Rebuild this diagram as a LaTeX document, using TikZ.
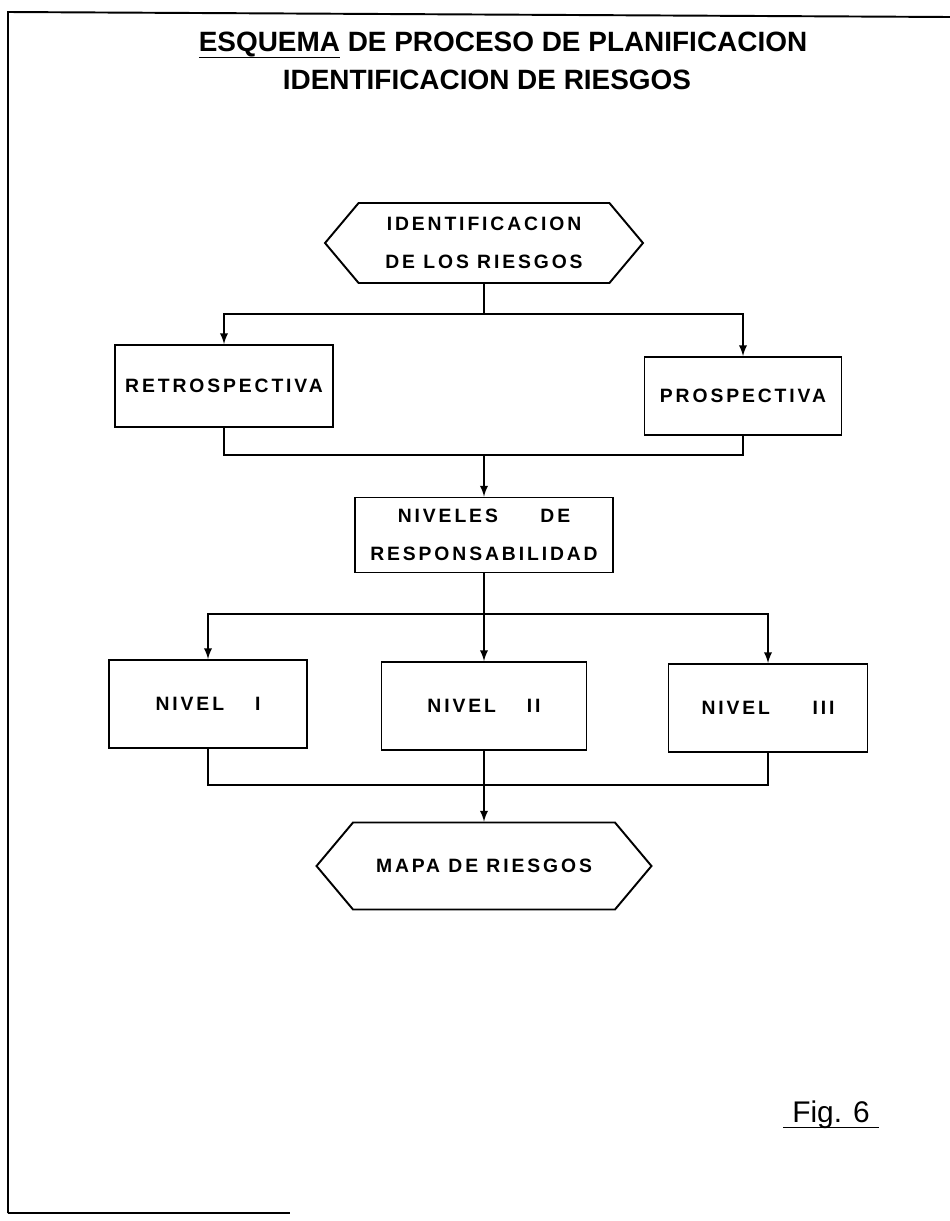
\documentclass[tikz,border=0pt]{standalone}
\usepackage{fontspec}
\setmainfont{Liberation Sans}
\usetikzlibrary{shapes.symbols}
\newfontfamily\boxfont[LetterSpace=15]{Liberation Sans Bold}
\newcommand\lowline[2][-4pt]{\setbox0\hbox{#2}\rlap{\rule[#1]{\wd0}{0.9pt}}\box0\relax}
\begin{document}
\begin{tikzpicture}[x=0.02cm,y=-0.02cm,line width=1.1pt,
                    mybox/.style={draw,rectangle,font=\boxfont\fontsize{11}{22}\selectfont,align=center},
                    myhex/.style={draw,shape=signal,signal to=west and east,signal pointer angle=100,
                                  font=\boxfont\fontsize{11}{22}\selectfont,align=center},
                    goto/.style={->},>=latex]
\useasboundingbox (0,0) rectangle (950,1221);
\draw (8,1213) -- (8,12) -- (950,17);
\draw (8,1213) -- (290,1213);
\node (title1) at (503,45) {\fontsize{15.9}{18}\bfseries\lowline{ESQUEMA} DE PROCESO DE PLANIFICACION};
\node (title2) at (487,80) {\fontsize{15.9}{18}\bfseries IDENTIFICACION DE RIESGOS};
\node[myhex,minimum width=6.36cm,minimum height=1.6cm] (idr) at (484,243) {IDENTIFICACION\\DE LOS RIESGOS};
\node[mybox,minimum width=4.36cm,minimum height=1.64cm] (retro) at (224,386) {RETROSPECTIVA};
\node[mybox,minimum width=3.94cm,minimum height=1.56cm] (pros) at (743,396) {PROSPECTIVA};
\node[mybox,minimum width=5.16cm,minimum height=1.5cm] (niv) at (484,535) {NIVELES\hspace{2.2em}DE\\RESPONSABILIDAD};
\node[mybox,minimum width=3.96cm,minimum height=1.76cm] (n1) at (208,704) {NIVEL\hspace{1.6em}I};
\node[mybox,minimum width=4.1cm,minimum height=1.76cm] (n2) at (484,706) {NIVEL\hspace{1.6em}II};
\node[mybox,minimum width=3.98cm,minimum height=1.76cm] (n3) at (768,708) {NIVEL\hspace{2.2em}III};
\node[myhex,minimum width=6.7cm,minimum height=1.74cm] (mapa) at (484,866) {MAPA DE RIESGOS};
\node[anchor=base] (fig) at (831,1122) {\fontsize{17}{20}\selectfont\lowline[-3.5pt]{\hspace{5pt}Fig. 6\hspace{5pt}}};
\coordinate (s1) at (484,314);
\coordinate (j1) at (484,455);
\coordinate (s2) at (484,614);
\coordinate (j2) at (484,785);
\draw (idr.south) -- (s1);
\draw[goto] (s1) -| (retro.north);
\draw[goto] (s1) -| (pros.north);
\draw (retro.south) |- (j1);
\draw (pros.south) |- (j1);
\draw[goto] (j1) -- (niv.north);
\draw (niv.south) -- (s2);
\draw[goto] (s2) -| (n1.north);
\draw[goto] (s2) -- (n2.north);
\draw[goto] (s2) -| (n3.north);
\draw (n1.south) |- (j2);
\draw (n3.south) |- (j2);
\draw[goto] (n2.south) -- (mapa.north);
\end{tikzpicture}
\end{document}
